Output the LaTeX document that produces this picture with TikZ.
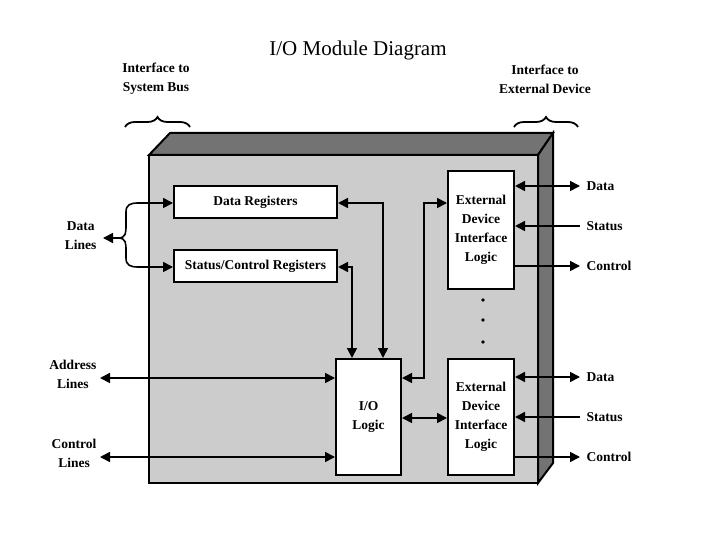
\documentclass[tikz,border=0pt]{standalone}
\usepackage{fontspec}
\setmainfont{Liberation Serif}
\usetikzlibrary{arrows.meta,decorations.pathreplacing}
\begin{document}
\begin{tikzpicture}[x=1pt,y=-1pt,
  box/.style={draw,line width=2pt,fill=white,align=center,font=\bfseries\fontsize{13.5}{19}\selectfont},
  lab/.style={font=\bfseries\fontsize{13.5}{19}\selectfont,align=center},
  ar/.style={line width=1.6pt,-{Triangle[length=10pt,width=10pt]}},
  dar/.style={line width=1.6pt,{Triangle[length=10pt,width=10pt]}-{Triangle[length=10pt,width=10pt]}}]
\useasboundingbox (0,0) rectangle (720,540);
\node (title) at (358,50) {\fontsize{21}{24}\selectfont I/O Module Diagram};
% module body
\fill[black!55,draw=black,line width=2pt] (149,155)--(170,133)--(553,133)--(538,155)--cycle;
\fill[black!55,draw=black,line width=2pt] (538,155)--(553,133)--(553,463)--(538,483)--cycle;
\filldraw[fill=black!20,line width=2pt] (149,155) rectangle (538,483);
% boxes
\node[box,minimum width=163pt,minimum height=32pt] (dr) at (255.5,202) {Data Registers};
\node[box,minimum width=163pt,minimum height=32pt] (sr) at (255.5,266) {Status/Control Registers};
\node[box,minimum width=65pt,minimum height=116pt] (io) at (368.5,417) {I/O\\Logic};
\node[box,minimum width=66pt,minimum height=118pt] (e1) at (481,230) {External\\Device\\Interface\\Logic};
\node[box,minimum width=66pt,minimum height=116pt] (e2) at (481,417) {External\\Device\\Interface\\Logic};
\foreach \y in {300,320,342} \fill (483,\y) circle (1.8pt);
% internal connectors
\draw[dar] (dr.east |- 0,203) -| (io.north -| 383,0);
\draw[dar] (sr.east |- 0,267) -| (io.north -| 352,0);
\draw[dar] (io.east |- 0,378) -| (424,300) |- (e1.west |- 0,203);
\draw[dar] (io.east |- 0,418) -- (e2.west |- 0,418);
% left lines
\coordinate (al) at (100,378);
\coordinate (cl) at (100,457);
\draw[dar] (al) -- (io.west |- al);
\draw[dar] (cl) -- (io.west |- cl);
\node[lab,anchor=east] (alab) at (100,374) {Address\\Lines};
\node[lab,anchor=east] (clab) at (100,453) {Control\\Lines};
\node[lab,anchor=east] (dlab) at (100,236) {Data\\Lines};
\coordinate (dl) at (103,238);
\draw[line width=1.6pt,{Triangle[length=10pt,width=10pt]}-] (dl) -- (118,238);
\draw[line width=1.6pt] (118,238) .. controls (126,238) and (126,233) .. (126,225) -- (126,212) .. controls (126,205) and (130,203) .. (138,203);
\draw[line width=1.6pt] (118,238) .. controls (126,238) and (126,243) .. (126,251) -- (126,258) .. controls (126,265) and (130,267) .. (138,267);
\draw[ar] (138,203) -- (dr.west |- 0,203);
\draw[ar] (138,267) -- (sr.west |- 0,267);
% right lines
\foreach \n/\o in {e1/0,e2/191}{
  \coordinate (d\n) at (580,186+\o);
  \coordinate (s\n) at (580,226+\o);
  \coordinate (c\n) at (580,266+\o);
  \draw[dar] (\n.east |- d\n) -- (d\n);
  \draw[ar] (s\n) -- (\n.east |- s\n);
  \draw[ar] (\n.east |- c\n) -- (c\n);
  \node[lab,anchor=west] at (583,186+\o) {Data};
  \node[lab,anchor=west] at (583,226+\o) {Status};
  \node[lab,anchor=west] at (583,266+\o) {Control};
}
% top labels and braces
\node[lab] (ib) at (156,79) {Interface to\\System Bus};
\node[lab] (ie) at (545,79) {Interface to\\External Device};
\draw[line width=1.8pt,decorate,decoration={brace,amplitude=10pt}] (125,127) -- (190,127);
\draw[line width=1.8pt,decorate,decoration={brace,amplitude=10pt}] (514,127) -- (578,127);
\end{tikzpicture}
\end{document}
